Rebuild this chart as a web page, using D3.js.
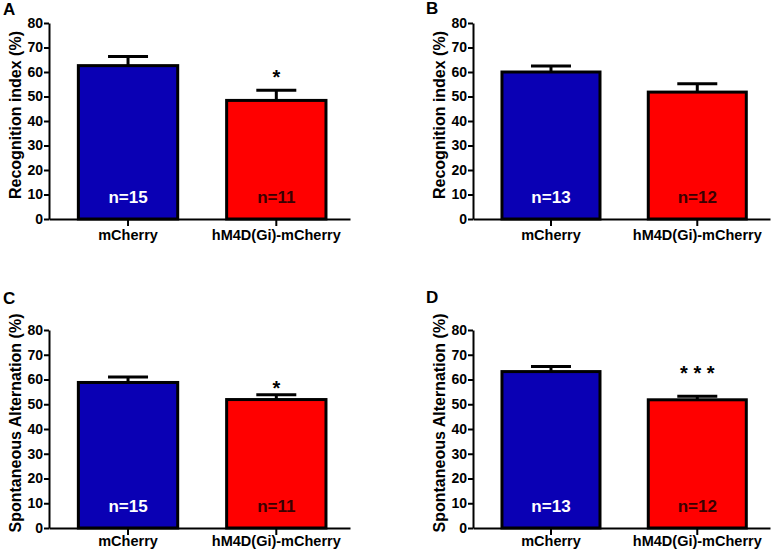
<!DOCTYPE html>
<html><head><meta charset="utf-8">
<script src="https://cdn.jsdelivr.net/npm/d3@7"></script>
<style>
body{margin:0;background:#fff;}
svg{display:block;font-family:"Liberation Sans",Arial,sans-serif;font-weight:bold;}
</style></head><body>
<svg id="chart" width="777" height="552"></svg>
<script>
// ---- data ----
const groups = ["mCherry", "hM4D(Gi)-mCherry"];
const yTicks = [0, 10, 20, 30, 40, 50, 60, 70, 80];
const panelLetters = ["A", "B", "C", "D"];
const yTitles = ["Recognition index (%)", "Recognition index (%)", "Spontaneous Alternation (%)", "Spontaneous Alternation (%)"];
const meansA = [62.6, 48.4];
const semA   = [3.7, 4.2];
const nA     = ["n=15", "n=11"];
const sigA   = ["", "*"];
const sigPosA = [null, 59.6];
const meansB = [60.0, 51.8];
const semB   = [2.4, 3.4];
const nB     = ["n=13", "n=12"];
const sigB   = ["", ""];
const sigPosB = [null, null];
const meansC = [58.8, 51.9];
const semC   = [2.2, 1.9];
const nC     = ["n=15", "n=11"];
const sigC   = ["", "*"];
const sigPosC = [null, 58.2];
const meansD = [63.2, 51.8];
const semD   = [2.1, 1.4];
const nD     = ["n=13", "n=12"];
const sigD   = ["", "***"];
const sigPosD = [null, 64.3];
const barColors = ["#0a00b4", "#ff0000"];
const nColors = ["#ffffff", "#3a0000"];

const panels = [
  {letter: panelLetters[0], title: yTitles[0], means: meansA, sem: semA, n: nA, sig: sigA, sigPos: sigPosA,
   x0: 49, x1: 350, yTop: 23, yBot: 219, lx: 3, ly: 15, tx: 21, xl: 240},
  {letter: panelLetters[1], title: yTitles[1], means: meansB, sem: semB, n: nB, sig: sigB, sigPos: sigPosB,
   x0: 473, x1: 770, yTop: 23, yBot: 219, lx: 426, ly: 14, tx: 445, xl: 240},
  {letter: panelLetters[2], title: yTitles[2], means: meansC, sem: semC, n: nC, sig: sigC, sigPos: sigPosC,
   x0: 49, x1: 350, yTop: 330, yBot: 528, lx: 3, ly: 304, tx: 21, xl: 546},
  {letter: panelLetters[3], title: yTitles[3], means: meansD, sem: semD, n: nD, sig: sigD, sigPos: sigPosD,
   x0: 473, x1: 770, yTop: 330, yBot: 528, lx: 426, ly: 303, tx: 445, xl: 546}
];

const svg = d3.select("#chart");

panels.forEach(p => {
  const g = svg.append("g");
  const y = d3.scaleLinear().domain([0, 80]).range([p.yBot, p.yTop]);
  const x = d3.scaleBand().domain(groups).range([p.x0, p.x1])
    .paddingInner(0.33).paddingOuter(0.18).align(0.55);

  g.append("text").attr("x", p.lx).attr("y", p.ly)
    .attr("font-size", 17).attr("fill", "#000").text(p.letter);

  g.append("text")
    .attr("transform", `translate(${p.tx},${(p.yTop + p.yBot) / 2 - 6}) rotate(-90)`)
    .attr("text-anchor", "middle").attr("font-size", 16).attr("fill", "#000")
    .text(p.title);

  const data = groups.map((k, i) => ({k, m: p.means[i], e: p.sem[i], n: p.n[i], s: p.sig[i], sp: p.sigPos[i], i}));

  data.forEach(d => {
    const cx = x(d.k) + x.bandwidth() / 2;
    g.append("line").attr("x1", cx).attr("x2", cx)
      .attr("y1", y(d.m)).attr("y2", y(d.m + d.e))
      .attr("stroke", "#000").attr("stroke-width", 3);
    g.append("line").attr("x1", cx - 20).attr("x2", cx + 20)
      .attr("y1", y(d.m + d.e)).attr("y2", y(d.m + d.e))
      .attr("stroke", "#000").attr("stroke-width", 3);
  });

  g.selectAll("rect.bar").data(data).enter().append("rect")
    .attr("class", "bar")
    .attr("x", d => x(d.k)).attr("width", x.bandwidth())
    .attr("y", d => y(d.m)).attr("height", d => y(0) - y(d.m))
    .attr("fill", d => barColors[d.i]).attr("stroke", "#000").attr("stroke-width", 3);

  g.selectAll("text.n").data(data).enter().append("text")
    .attr("class", "n")
    .attr("x", d => x(d.k) + x.bandwidth() / 2).attr("y", y(0) - 16)
    .attr("text-anchor", "middle").attr("font-size", 17)
    .attr("fill", d => nColors[d.i]).text(d => d.n);

  data.filter(d => d.s).forEach(d => {
    g.append("text").attr("x", x(d.k) + x.bandwidth() / 2 + 2.75).attr("y", y(d.sp) + 11)
      .attr("text-anchor", "middle").attr("font-size", 20).attr("letter-spacing", "5.5px")
      .attr("fill", "#000").text(d.s);
  });

  const ya = g.append("g").attr("transform", `translate(${p.x0},0)`)
    .call(d3.axisLeft(y).tickValues(yTicks).tickSize(5).tickPadding(1).tickSizeOuter(0));
  ya.select(".domain").attr("stroke", "#000").attr("stroke-width", 2);
  ya.selectAll(".tick line").attr("stroke", "#000").attr("stroke-width", 2);
  ya.selectAll(".tick text").attr("font-size", 14).attr("font-family", "Liberation Sans, Arial, sans-serif")
    .attr("font-weight", "bold").attr("fill", "#000");

  const xa = g.append("g").attr("transform", `translate(0,${p.yBot})`)
    .call(d3.axisBottom(x).tickSize(7).tickSizeOuter(0).tickPadding(4));
  xa.select(".domain").attr("stroke", "#000").attr("stroke-width", 2);
  xa.selectAll(".tick line").attr("stroke", "#000").attr("stroke-width", 2);
  xa.selectAll(".tick text").attr("font-size", 14.5).attr("font-family", "Liberation Sans, Arial, sans-serif")
    .attr("font-weight", "bold").attr("fill", "#000")
    .attr("y", p.xl - p.yBot).attr("dy", null);
});
</script>
</body></html>
